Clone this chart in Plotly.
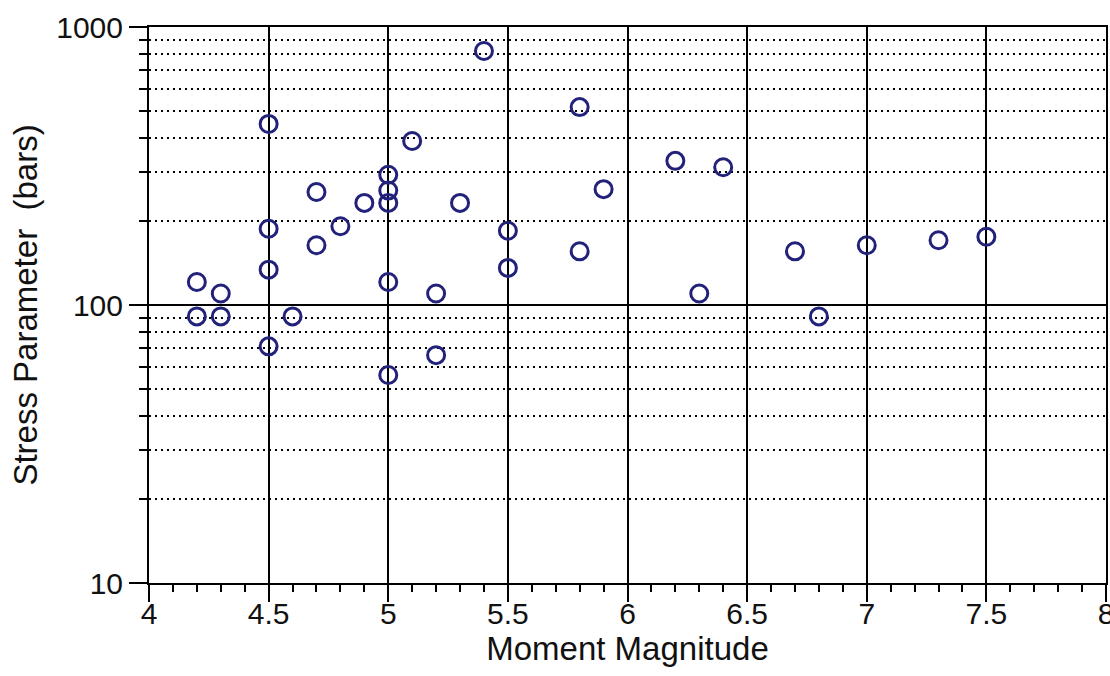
import plotly.graph_objects as go

magnitude = [4.2, 4.2, 4.3, 4.3, 4.5, 4.5, 4.5, 4.5, 4.6, 4.7, 4.7, 4.8, 4.9,
             5.0, 5.0, 5.0, 5.0, 5.0, 5.1, 5.2, 5.2, 5.3, 5.4, 5.5, 5.5,
             5.8, 5.8, 5.9, 6.2, 6.3, 6.4, 6.7, 6.8, 7.0, 7.3, 7.5]
stress = [121, 91, 110, 91, 448, 188, 134, 71, 91, 255, 164, 192, 233,
          294, 258, 233, 121, 56, 389, 110, 66, 233, 820, 185, 136,
          515, 156, 261, 330, 110, 313, 156, 91, 164, 171, 176]

x_ticks = [4, 4.5, 5, 5.5, 6, 6.5, 7, 7.5, 8]
x_ticktext = ["4", "4.5", "5", "5.5", "6", "6.5", "7", "7.5", "8"]
y_ticks = [10, 100, 1000]
y_ticktext = ["10", "100", "1000"]
y_minor = [20, 30, 40, 50, 60, 70, 80, 90, 200, 300, 400, 500, 600, 700, 800, 900]

FONT = "Liberation Sans, Arial, sans-serif"

fig = go.Figure()
fig.add_trace(go.Scatter(
    x=magnitude, y=stress, mode="markers",
    marker=dict(symbol="circle-open", size=17, color="#22227a",
                line=dict(width=3, color="#22227a")),
    showlegend=False, hoverinfo="x+y",
))

fig.update_layout(
    width=1110, height=676,
    margin=dict(l=149, r=4, t=27, b=93),
    paper_bgcolor="white", plot_bgcolor="white",
    font=dict(family=FONT, color="#111111"),
)

fig.update_xaxes(
    range=[4, 8], tickmode="array", tickvals=x_ticks, ticktext=x_ticktext,
    ticks="outside", ticklen=17, tickwidth=2, tickcolor="black",
    showline=True, linecolor="black", linewidth=2, mirror=True,
    showgrid=True, gridcolor="black", gridwidth=2,
    zeroline=False, ticklabeloverflow="allow", automargin=False,
    ticklabelstandoff=-14,
    tickfont=dict(size=30, family=FONT, color="#111111"),
    minor=dict(dtick=0.1, tick0=4, ticks="outside", ticklen=7, tickwidth=2,
               tickcolor="black", showgrid=False),
    title=dict(text="Moment Magnitude", font=dict(size=33, family=FONT, color="#111111"),
               standoff=8),
)

fig.update_yaxes(
    type="log", range=[1, 3], tickmode="array", tickvals=y_ticks, ticktext=y_ticktext,
    ticks="outside", ticklen=18, tickwidth=2, tickcolor="black",
    showline=True, linecolor="black", linewidth=2, mirror=True,
    showgrid=True, gridcolor="black", gridwidth=2,
    zeroline=False, automargin=False,
    tickfont=dict(size=30, family=FONT, color="#111111"),
    minor=dict(tickvals=y_minor, ticks="outside", ticklen=8, tickwidth=2,
               tickcolor="black", showgrid=True, gridcolor="black",
               gridwidth=2, griddash="2px,4px"),
    title=dict(text="Stress Parameter  (bars)", font=dict(size=33, family=FONT, color="#111111"),
               standoff=9),
)

fig.write_html("out.html")
